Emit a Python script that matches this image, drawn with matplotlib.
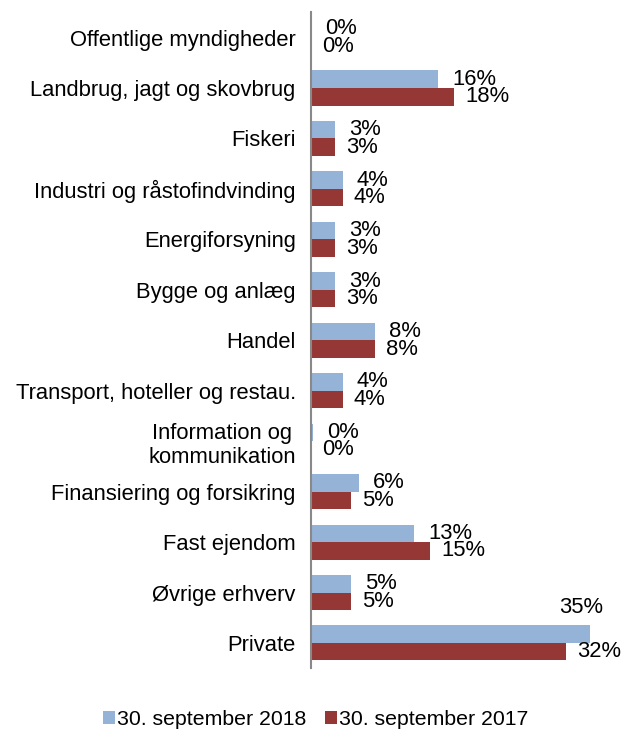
import matplotlib
matplotlib.use("Agg")
import matplotlib.pyplot as plt
import numpy as np

plt.rcParams["font.family"] = ["Liberation Sans", "DejaVu Sans"]

categories = [
    "Offentlige myndigheder",
    "Landbrug, jagt og skovbrug",
    "Fiskeri",
    "Industri og råstofindvinding",
    "Energiforsyning",
    "Bygge og anlæg",
    "Handel",
    "Transport, hoteller og restau.",
    "Information og\nkommunikation",
    "Finansiering og forsikring",
    "Fast ejendom",
    "Øvrige erhverv",
    "Private",
]
sep_2018 = [0, 16, 3, 4, 3, 3, 8, 4, 0.3, 6, 13, 5, 35]
sep_2017 = [0, 18, 3, 4, 3, 3, 8, 4, 0, 5, 15, 5, 32]
labels_2018 = ["0%", "16%", "3%", "4%", "3%", "3%", "8%", "4%", "0%", "6%", "13%", "5%", "35%"]
labels_2017 = ["0%", "18%", "3%", "4%", "3%", "3%", "8%", "4%", "0%", "5%", "15%", "5%", "32%"]

blue = "#95B3D7"
red = "#953735"
fs = 15.8

fig = plt.figure(figsize=(6.22, 7.29), dpi=100)
ax = fig.add_axes([311 / 622, 0.0834, (589.5 - 311) / 622, 0.8997])

y = np.arange(len(categories))
h = 0.347
ax.barh(y - h / 2, sep_2018, height=h, color=blue, label="30. september 2018")
ax.barh(y + h / 2, sep_2017, height=h, color=red, label="30. september 2017")

ax.set_xlim(0, 35)
ax.set_ylim(len(categories) - 0.5, -0.5)

for i in range(len(categories)):
    if i == len(categories) - 1:
        # Private: 2018 label sits above the bar
        ax.annotate(labels_2018[i], (sep_2018[i], y[i] - h / 2), xytext=(-6, 19),
                    textcoords="offset points", ha="center", va="center", fontsize=fs,
                    annotation_clip=False)
    else:
        ax.annotate(labels_2018[i], (sep_2018[i], y[i] - h / 2), xytext=(10, 0),
                    textcoords="offset points", ha="left", va="center", fontsize=fs,
                    annotation_clip=False)
    ax.annotate(labels_2017[i], (sep_2017[i], y[i] + h / 2), xytext=(8, 0),
                textcoords="offset points", ha="left", va="center", fontsize=fs,
                annotation_clip=False)

ax.set_yticks(y)
ax.set_yticklabels(categories, fontsize=fs)
for t in ax.get_yticklabels():
    t.set_multialignment("center")
ax.tick_params(axis="y", length=0, pad=11)
ax.set_xticks([])
for s in ["top", "right", "bottom"]:
    ax.spines[s].set_visible(False)
ax.spines["left"].set_color("#898989")
ax.spines["left"].set_linewidth(1.5)

fig.legend(loc="center", bbox_to_anchor=(0.508, 0.0135), ncol=2, frameon=False,
           fontsize=15.3, handlelength=0.55, handleheight=0.55, handletextpad=0.1,
           columnspacing=0.9, borderpad=0)

fig.savefig("out.png", dpi=100)
